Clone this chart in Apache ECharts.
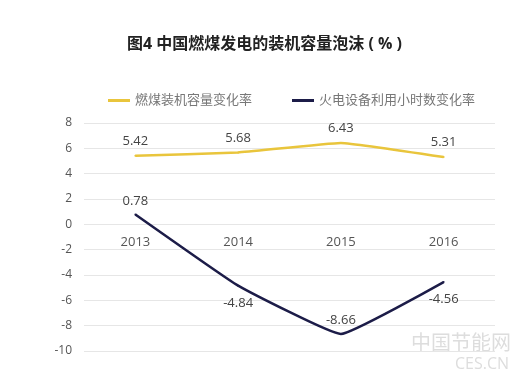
<!doctype html>
<html lang="zh-cn">
<head>
<meta charset="utf-8">
<script src="https://cdn.jsdelivr.net/npm/echarts@6/dist/echarts.min.js"></script>
</head>
<body style="margin:0;background:#fff;">
<div id="main" style="width:529px;height:376px;"></div>
<script>
	var years = ['2013', '2014', '2015', '2016'];
	var capacityRate = [5.42, 5.68, 6.43, 5.31];
	var hoursRate = [0.78, -4.84, -8.66, -4.56];
	var hoursLabelPos = ['top', 'bottom', 'top', 'bottom'];

	var chart = echarts.init(document.getElementById('main'));
	var font = '"Open Sans", "Noto Sans CJK SC", sans-serif';

	chart.setOption({
		backgroundColor: '#fff',
		title: {
			text: '图4 中国燃煤发电的装机容量泡沫 ( % )',
			left: 'center',
			top: 31,
			textStyle: { fontSize: 16, fontWeight: 'bold', color: '#222', fontFamily: font }
		},
		legend: {
			top: 89,
			left: 103,
			itemGap: 40,
			itemWidth: 22,
			itemHeight: 3,
			icon: 'rect',
			textStyle: { color: '#777', fontSize: 13, fontFamily: font },
			data: ['燃煤装机容量变化率', '火电设备利用小时数变化率']
		},
		grid: { left: 84, right: 34, top: 123, bottom: 25 },
		xAxis: {
			type: 'category',
			data: years,
			position: 'bottom',
			offset: -127,
			axisLine: { show: false, onZero: false },
			axisTick: { show: false },
			axisLabel: { color: '#555', fontSize: 13, margin: 12, fontFamily: font }
		},
		yAxis: {
			type: 'value',
			min: -10,
			max: 8,
			interval: 2,
			axisLine: { show: false },
			axisTick: { show: false },
			splitLine: { lineStyle: { color: '#e6e6e6' } },
			axisLabel: { color: '#555', fontSize: 12, margin: 12, fontFamily: font }
		},
		series: [
			{
				name: '燃煤装机容量变化率',
				type: 'line',
				data: capacityRate,
				smooth: 0.1,
				symbol: 'circle',
				symbolSize: 2,
				showSymbol: true,
				color: '#e9c53c',
				lineStyle: { width: 2.5, color: '#e9c53c' },
				label: { show: true, position: 'top', distance: 7, color: '#444', fontSize: 13, fontFamily: font }
			},
			{
				name: '火电设备利用小时数变化率',
				type: 'line',
				data: hoursRate.map(function (v, i) {
					return { value: v, label: { position: hoursLabelPos[i], distance: hoursLabelPos[i] === 'top' ? 6 : 10 } };
				}),
				smooth: 0.1,
				symbol: 'circle',
				symbolSize: 2,
				showSymbol: true,
				color: '#1c1c48',
				lineStyle: { width: 2.5, color: '#1c1c48' },
				label: { show: true, color: '#444', fontSize: 13, fontFamily: font }
			}
		],
		graphic: [
			{
				type: 'text',
				right: 18,
				bottom: 22,
				style: { text: '中国节能网', fill: '#ddd', fontSize: 20, fontFamily: font }
			},
			{
				type: 'text',
				right: 20,
				bottom: 4,
				style: { text: 'CES.CN', fill: '#ddd', fontSize: 16, fontFamily: font }
			}
		]
	});
</script>
</body>
</html>
